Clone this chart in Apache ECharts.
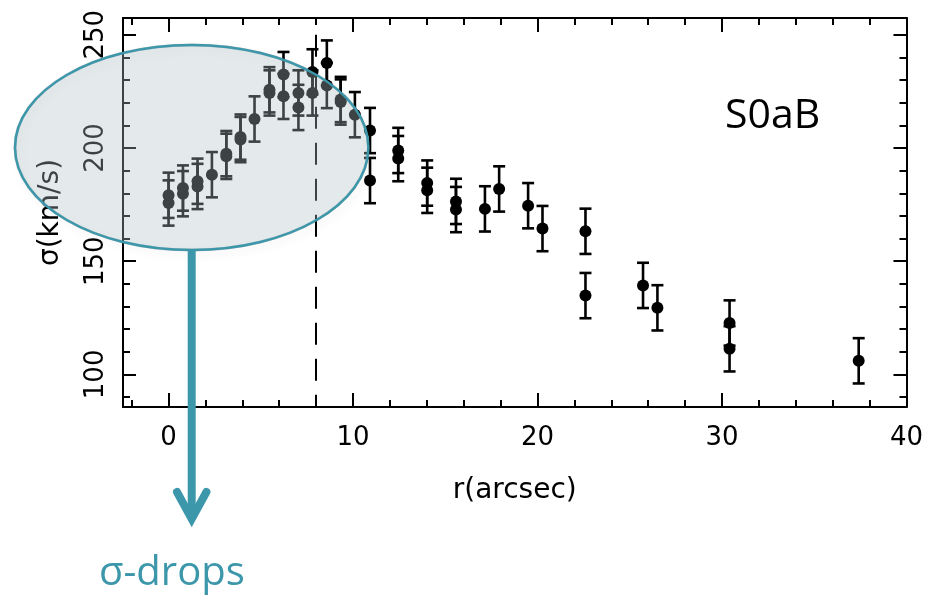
<!DOCTYPE html>
<html><head><meta charset="utf-8">
<script src="https://cdn.jsdelivr.net/npm/echarts@6/dist/echarts.min.js"></script>
<style>html,body{margin:0;padding:0;background:#fff}#c{width:926px;height:600px}</style>
</head><body><div id="c"></div>
<script>
// radius (arcsec)
const radius = [0, 0, 0.78, 0.78, 1.57, 1.57, 2.35, 3.13, 3.13, 3.9, 3.9, 4.66, 5.47, 5.47, 6.23, 6.23, 7.04, 7.04, 7.8, 7.8, 8.58, 8.58, 9.33, 9.33, 10.1, 10.92, 10.92, 12.45, 12.45, 14.02, 14.02, 15.58, 15.58, 17.15, 17.92, 19.49, 20.27, 22.6, 22.6, 25.72, 26.5, 30.41, 30.41, 37.41];
// velocity dispersion sigma (km/s)
const sigma = [179.1, 175.7, 182.3, 179.8, 185.3, 183.0, 188.2, 197.5, 196.3, 204.8, 203.7, 212.8, 225.7, 224.3, 232.4, 222.8, 224.3, 217.9, 233.6, 224.3, 237.5, 227.6, 221.4, 220.3, 214.7, 207.7, 185.6, 198.9, 195.3, 184.5, 181.3, 176.4, 172.8, 173.1, 181.9, 174.5, 164.4, 163.2, 134.8, 139.3, 129.4, 122.7, 111.3, 106.0];
// error on sigma (km/s)
const sigmaErr = [10, 10, 10, 10, 10, 10, 10, 10, 10, 10, 10, 10, 10, 10, 10, 10, 10, 10, 10, 10, 10, 10, 10, 10, 10, 10, 10, 10, 10, 10, 10, 10, 10, 10, 10, 10, 10, 10, 10, 10, 10, 10, 10, 10];
const xTicks = [0, 10, 20, 30, 40];
const yTicks = [100, 150, 200, 250];
const dropRadius = 8;      // dashed line position
const panelLabel = 'S0aB';
const calloutLabel = 'σ-drops';
const xName = 'r(arcsec)';
const yName = 'σ(km/s)';

const X_MIN = -2.47, X_MAX = 40, Y_MIN = 85.6, Y_MAX = 257.4;
const FONT = '"DejaVu Sans", sans-serif';
const TEAL = '#3d97ab';

const chart = echarts.init(document.getElementById('c'));
const tickStyle = {color: '#000', width: 2};
const lineStyle = {color: '#000', width: 2};

function xAx(pos, showLabel) {
  return {
    type: 'value', position: pos, min: X_MIN, max: X_MAX, splitNumber: 4,
    axisLine: {show: true, onZero: false, lineStyle},
    axisTick: {show: true, inside: true, length: 14, lineStyle: tickStyle},
    minorTick: {show: true, splitNumber: 5, length: 7, lineStyle: tickStyle},
    splitLine: {show: false}, minorSplitLine: {show: false},
    axisLabel: {show: showLabel, margin: 18, color: '#000', fontSize: 26, fontFamily: FONT,
      formatter: v => (xTicks.some(t => Math.abs(t - v) < 1e-6) ? String(Math.round(v)) : '')},
    name: showLabel ? xName : '', nameLocation: 'middle', nameGap: 70,
    nameTextStyle: {color: '#000', fontSize: 28, fontFamily: FONT}
  };
}
function yAx(pos, showLabel) {
  return {
    type: 'value', position: pos, min: Y_MIN, max: Y_MAX, splitNumber: 4,
    axisLine: {show: true, onZero: false, lineStyle},
    axisTick: {show: true, inside: true, length: 13, lineStyle: tickStyle},
    minorTick: {show: true, splitNumber: 5, length: 7, lineStyle: tickStyle},
    splitLine: {show: false}, minorSplitLine: {show: false},
    axisLabel: {show: showLabel, rotate: 90, margin: 14, color: '#000', fontSize: 26, fontFamily: FONT,
      formatter: v => (yTicks.some(t => Math.abs(t - v) < 1e-6) ? String(Math.round(v)) : '')},
    name: showLabel ? yName : '', nameLocation: 'middle', nameGap: 58, nameRotate: 90,
    nameTextStyle: {color: '#000', fontSize: 28, fontFamily: FONT}
  };
}

const errData = radius.map((r, i) => [r, sigma[i] - sigmaErr[i], sigma[i] + sigmaErr[i]]);
const ptData = radius.map((r, i) => [r, sigma[i]]);

chart.setOption({
  animation: false,
  backgroundColor: '#fff',
  grid: {left: 123, right: 19, top: 18, bottom: 193, containLabel: false},
  xAxis: [xAx('bottom', true), xAx('top', false)],
  yAxis: [yAx('left', true), yAx('right', false)],
  series: [
    {
      type: 'custom', xAxisIndex: 0, yAxisIndex: 0, z: 3,
      encode: {x: 0, y: [1, 2]},
      data: errData,
      renderItem: function (params, api) {
        const x = api.value(0), lo = api.value(1), hi = api.value(2);
        const top = api.coord([x, hi]), bot = api.coord([x, lo]);
        const hw = 6;
        const st = {stroke: '#000', lineWidth: 2.6};
        return {type: 'group', children: [
          {type: 'line', shape: {x1: top[0], y1: top[1], x2: bot[0], y2: bot[1]}, style: st},
          {type: 'line', shape: {x1: top[0] - hw, y1: top[1], x2: top[0] + hw, y2: top[1]}, style: st},
          {type: 'line', shape: {x1: bot[0] - hw, y1: bot[1], x2: bot[0] + hw, y2: bot[1]}, style: st}
        ]};
      }
    },
    {
      type: 'scatter', xAxisIndex: 0, yAxisIndex: 0, z: 4,
      symbol: 'circle', symbolSize: 12,
      itemStyle: {color: '#000', opacity: 1},
      data: ptData,
      markLine: {
        silent: true, symbol: ['none', 'none'], label: {show: false},
        lineStyle: {color: '#000', width: 2, type: [22, 14]},
        data: [[{coord: [dropRadius, 250]}, {coord: [dropRadius, Y_MIN]}]]
      }
    }
  ],
  graphic: [
    {type: 'ellipse', z: 99, shape: {cx: 191.7, cy: 147.5, rx: 176.7, ry: 102.5},
      style: {fill: 'rgba(0,0,0,0)', stroke: 'rgba(0,0,0,0.18)', lineWidth: 3,
        shadowBlur: 8, shadowOffsetX: 3, shadowOffsetY: 4, shadowColor: 'rgba(0,0,0,0.35)'}},
    {type: 'ellipse', z: 100, shape: {cx: 191.7, cy: 147.5, rx: 176.7, ry: 102.5},
      style: {fill: 'rgba(177,194,197,0.345)', stroke: TEAL, lineWidth: 2.5}},
    {type: 'line', z: 100, shape: {x1: 191.7, y1: 250, x2: 191.7, y2: 516},
      style: {stroke: TEAL, lineWidth: 8}},
    {type: 'polyline', z: 100, shape: {points: [[177, 492], [191.7, 519], [206.4, 492]]},
      style: {stroke: TEAL, lineWidth: 8, fill: null, lineCap: 'round', lineJoin: 'miter'}},
    {type: 'text', z: 100, x: 99, y: 574,
      style: {text: calloutLabel, fill: TEAL, fontSize: 40, fontFamily: '"Open Sans", sans-serif', align: 'left', verticalAlign: 'middle'}},
    {type: 'text', z: 100, x: 725, y: 116,
      style: {text: panelLabel, fill: '#000', fontSize: 41, fontFamily: '"Open Sans", sans-serif', align: 'left', verticalAlign: 'middle'}}
  ]
});
</script>
</body></html>
